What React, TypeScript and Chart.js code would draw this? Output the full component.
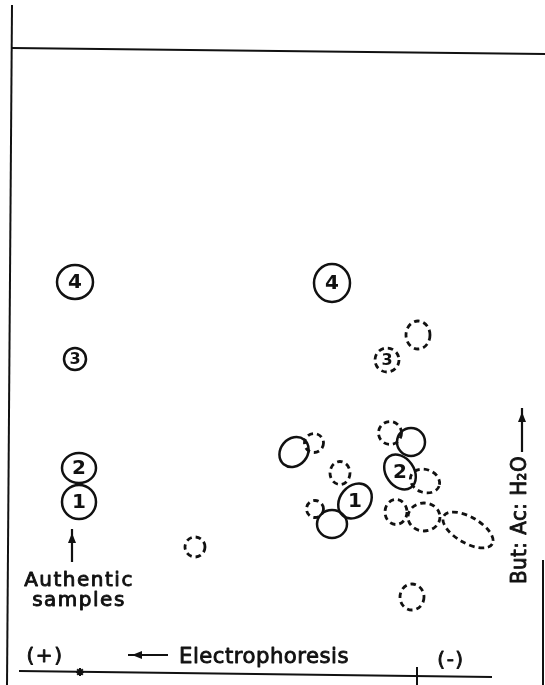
import React, { useEffect, useRef } from "react";
import { Chart, registerables } from "chart.js";

Chart.register(...registerables);

// ---- Data (chart units: x = electrophoretic position, y = chromatographic position, top = 0) ----
// Authentic samples (solid, numbered)
const authX = [75, 75, 79, 79];
const authY = [282, 359, 468, 502];
const authRx = [18, 11, 17, 17];
const authRy = [17, 11, 15, 17];
const authLabel = ["4", "3", "2", "1"];

// Sample spots, solid outline
const solidX = [332, 294, 355, 332, 411, 400];
const solidY = [283, 452, 501, 524, 442, 472];
const solidRx = [18, 16, 19, 15, 14, 19];
const solidRy = [19, 13.5, 15, 14, 14, 14];
const solidRot = [0, -50, -50, 0, 0, 55];
const solidLabel = ["4", "", "1", "", "", "2"];

// Sample spots, dashed outline
const dashX = [195, 418, 387, 314, 340, 315, 390, 425, 396, 424, 468, 412];
const dashY = [547, 335, 360, 443, 473, 509, 433, 481, 512, 517, 530, 597];
const dashRx = [10, 12, 12, 9.5, 10, 8.5, 11.5, 15, 11, 16, 28, 12];
const dashRy = [10, 14, 12, 9.5, 11.5, 8.5, 11.5, 11.5, 12.5, 14, 13, 13];
const dashRot = [0, 0, 0, 0, 0, 0, 0, 20, 0, 0, 30, 0];
const dashLabel = ["", "", "3", "", "", "", "", "", "", "", "", ""];

// Frame / axis lines
const frameLines = [
  [[12, 5], [7, 685]],
  [[12, 48], [545, 54]],
  [[19, 671], [492, 677]],
  [[543, 560], [543, 685]],
  [[417, 667], [417, 686]],
];
const originMark = [{ x: 80, y: 672 }];

// Arrows [from, to]
const arrows = [
  [[168, 655], [132, 655]],
  [[72, 562], [72, 533]],
  [[522, 452], [522, 412]],
];

// Texts
const texts = [
  { t: "(+)", x: 45, y: 657, size: 20, spacing: 1.5, rot: 0, w: 0 },
  { t: "Electrophoresis", x: 264, y: 657, size: 22, spacing: 0.5, rot: 0, w: 170 },
  { t: "(-)", x: 451, y: 661, size: 20, spacing: 1.5, rot: 0, w: 0 },
  { t: "Authentic", x: 79, y: 581, size: 20, spacing: 1.5, rot: 0, w: 110 },
  { t: "samples", x: 79, y: 601, size: 20, spacing: 1.5, rot: 0, w: 96 },
  { t: "But: Ac: H₂O", x: 520, y: 520, size: 22, spacing: 0.5, rot: -90, w: 128 },
];

function spotData(xs: number[], ys: number[], rxs: number[], rys: number[], rots: number[], labels: string[]) {
  return xs.map((x, i) => ({ x, y: ys[i], rx: rxs[i], ry: rys[i], rot: rots[i], label: labels[i] }));
}

const FONT = '"DejaVu Sans", sans-serif';
const INK = "#111";

const drawPlugin = {
  id: "spotsAndText",
  afterDatasetsDraw(chart: any) {
    const { ctx } = chart;
    const sx = chart.scales.x;
    const sy = chart.scales.y;
    const px = (v: number) => sx.getPixelForValue(v);
    const py = (v: number) => sy.getPixelForValue(v);
    ctx.save();
    ctx.strokeStyle = INK;
    ctx.fillStyle = INK;

    chart.data.datasets.forEach((ds: any, i: number) => {
      if (!ds.spot) return;
      const meta = chart.getDatasetMeta(i);
      meta.data.forEach((el: any, j: number) => {
        const d = ds.data[j];
        const rx = Math.abs(px(d.x + d.rx) - px(d.x));
        const ry = Math.abs(py(d.y + d.ry) - py(d.y));
        ctx.save();
        ctx.lineWidth = ds.spot === "dash" ? 2.8 : 2.5;
        ctx.setLineDash(ds.spot === "dash" ? [5.5, 4] : []);
        ctx.beginPath();
        ctx.ellipse(el.x, el.y, rx, ry, (d.rot * Math.PI) / 180, 0, Math.PI * 2);
        ctx.stroke();
        ctx.restore();
        if (d.label) {
          const fs = Math.min(rx, ry) < 13 ? 16 : 20;
          ctx.font = `bold ${fs}px ${FONT}`;
          ctx.textAlign = "center";
          ctx.textBaseline = "middle";
          ctx.fillText(d.label, el.x, el.y + 1);
        }
      });
    });

    // arrows
    ctx.lineWidth = 2.2;
    arrows.forEach(([a, b]) => {
      const x1 = px(a[0]), y1 = py(a[1]), x2 = px(b[0]), y2 = py(b[1]);
      const ang = Math.atan2(y2 - y1, x2 - x1);
      ctx.beginPath();
      ctx.moveTo(x1, y1);
      ctx.lineTo(x2 + 4 * Math.cos(ang), y2 + 4 * Math.sin(ang));
      ctx.stroke();
      const L = 10, W = 4;
      ctx.beginPath();
      ctx.moveTo(x2, y2);
      ctx.lineTo(x2 - L * Math.cos(ang) + W * Math.sin(ang), y2 - L * Math.sin(ang) - W * Math.cos(ang));
      ctx.lineTo(x2 - L * Math.cos(ang) - W * Math.sin(ang), y2 - L * Math.sin(ang) + W * Math.cos(ang));
      ctx.closePath();
      ctx.fill();
    });

    // texts
    texts.forEach((t) => {
      ctx.save();
      ctx.translate(px(t.x), py(t.y));
      ctx.rotate((t.rot * Math.PI) / 180);
      ctx.font = `${t.size}px ${FONT}`;
      (ctx as any).letterSpacing = `${t.spacing}px`;
      ctx.textAlign = "center";
      ctx.textBaseline = "middle";
      ctx.lineWidth = 0.9;
      ctx.lineJoin = "round";
      if (t.w) {
        ctx.fillText(t.t, 0, 0, t.w);
        ctx.strokeText(t.t, 0, 0, t.w);
      } else {
        ctx.fillText(t.t, 0, 0);
        ctx.strokeText(t.t, 0, 0);
      }
      ctx.restore();
    });
    ctx.restore();
  },
};

export default function App() {
  const ref = useRef<HTMLCanvasElement | null>(null);
  useEffect(() => {
    if (!ref.current) return;
    const lineSets = frameLines.map((seg) => ({
      type: "line" as const,
      data: seg.map(([x, y]) => ({ x, y })),
      showLine: true,
      borderColor: INK,
      borderWidth: 2,
      pointRadius: 0,
      fill: false,
    }));
    const chart = new Chart(ref.current, {
      type: "scatter",
      data: {
        datasets: [
          ...lineSets,
          {
            data: originMark,
            pointStyle: "star",
            pointRadius: 4,
            borderColor: INK,
            backgroundColor: INK,
            borderWidth: 2,
          },
          { spot: "solid", data: spotData(authX, authY, authRx, authRy, [0, 0, 0, 0], authLabel), pointRadius: 0 },
          { spot: "solid", data: spotData(solidX, solidY, solidRx, solidRy, solidRot, solidLabel), pointRadius: 0 },
          { spot: "dash", data: spotData(dashX, dashY, dashRx, dashRy, dashRot, dashLabel), pointRadius: 0 },
        ] as any,
      },
      options: {
        animation: false,
        responsive: false,
        maintainAspectRatio: false,
        layout: { padding: 0, autoPadding: false },
        plugins: { legend: { display: false }, tooltip: { enabled: false } },
        scales: {
          x: { type: "linear", min: 0, max: 545, display: false },
          y: { type: "linear", min: 0, max: 685, reverse: true, display: false },
        },
      },
      plugins: [drawPlugin],
    });
    return () => chart.destroy();
  }, []);
  return (
    <div style={{ position: "fixed", left: 0, top: 0, width: 545, height: 685, background: "#fff" }}>
      <canvas ref={ref} width={545} height={685} style={{ display: "block" }} />
    </div>
  );
}
